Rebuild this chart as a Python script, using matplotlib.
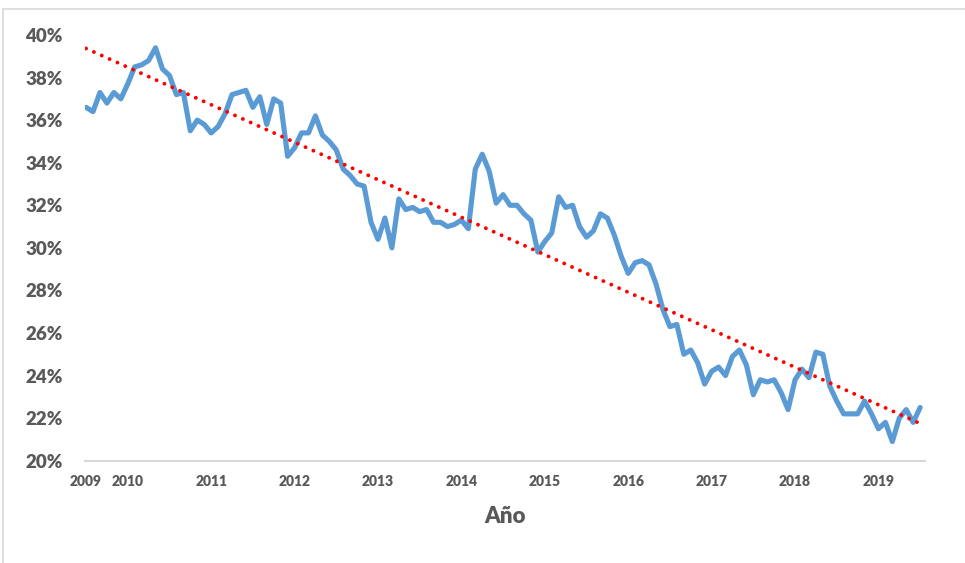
import numpy as np
import matplotlib
matplotlib.use("Agg")
import matplotlib.pyplot as plt
from matplotlib.patches import Rectangle

# Monthly share, July 2009 - July 2019 (percent)
values = [
    36.6, 36.4, 37.3, 36.8, 37.3, 37.0, 37.7, 38.5, 38.6, 38.8,
    39.4, 38.4, 38.1, 37.2, 37.3, 35.5, 36.0, 35.8, 35.4, 35.7,
    36.3, 37.2, 37.3, 37.4, 36.6, 37.1, 35.8, 37.0, 36.8, 34.3,
    34.7, 35.4, 35.4, 36.2, 35.3, 35.0, 34.6, 33.7, 33.4, 33.0,
    32.9, 31.2, 30.4, 31.4, 30.0, 32.3, 31.8, 31.9, 31.7, 31.8,
    31.2, 31.2, 31.0, 31.1, 31.3, 30.9, 33.7, 34.4, 33.6, 32.1,
    32.5, 32.0, 32.0, 31.6, 31.3, 29.8, 30.3, 30.7, 32.4, 31.9,
    32.0, 31.0, 30.5, 30.8, 31.6, 31.4, 30.6, 29.6, 28.8, 29.3,
    29.4, 29.2, 28.3, 27.1, 26.3, 26.4, 25.0, 25.2, 24.6, 23.6,
    24.2, 24.4, 24.0, 24.9, 25.2, 24.5, 23.1, 23.8, 23.7, 23.8,
    23.2, 22.4, 23.8, 24.3, 23.9, 25.1, 25.0, 23.5, 22.8, 22.2,
    22.2, 22.2, 22.8, 22.2, 21.5, 21.8, 20.9, 22.0, 22.4, 21.8,
    22.5,
]
tick_positions = [0, 6, 18, 30, 42, 54, 66, 78, 90, 102, 114]
tick_labels = ["2009", "2010", "2011", "2012", "2013", "2014",
               "2015", "2016", "2017", "2018", "2019"]
x_title = "Año"

y = np.array(values)
x = np.arange(len(y))

# Linear trend fitted to the series
coef = np.polyfit(x, y, 1)
trend = np.polyval(coef, x)

W, H = 965, 563
fig = plt.figure(figsize=(W / 100, H / 100), dpi=100)
left, right = 85, 925
top, bottom = 35, 460.7
ax = fig.add_axes([left / W, 1 - bottom / H, (right - left) / W, (bottom - top) / H])

grey = "#595959"
font = ["Lato", "DejaVu Sans"]

ax.plot(x, y, color="#5B9BD5", lw=3.7, solid_joinstyle="round",
        solid_capstyle="round", zorder=3)
ax.plot(x, trend, color="#FF0000", lw=2.8, linestyle=(0, (0.01, 2.2)),
        dash_capstyle="round", zorder=4)

ax.set_xlim(-0.15, 120.7)
ax.set_ylim(20, 40)
ax.set_yticks(np.arange(20, 41, 2))
ax.set_yticklabels([f"{v}%" for v in range(20, 41, 2)])
ax.set_xticks(tick_positions)
ax.set_xticklabels(tick_labels)

for s in ["top", "right", "left"]:
    ax.spines[s].set_visible(False)
ax.spines["bottom"].set_color("#D9D9D9")
ax.spines["bottom"].set_linewidth(1.5)

ax.tick_params(axis="y", length=0, pad=16, labelsize=13.5, labelcolor=grey)
ax.tick_params(axis="x", length=0, pad=10, labelsize=10, labelcolor=grey)
for lab in ax.get_yticklabels() + ax.get_xticklabels():
    lab.set_fontweight("heavy")
    lab.set_family(font)

ax.set_xlabel(x_title, fontsize=16, fontweight="heavy", color=grey,
              family=font, labelpad=13)

# Chart-area frame
fig.add_artist(Rectangle((3 / W, -0.1), 1.2, (H - 8.5) / H + 0.1,
                         transform=fig.transFigure, fill=False,
                         ec="#D9D9D9", lw=1.2))

fig.savefig("out.png", dpi=100)
